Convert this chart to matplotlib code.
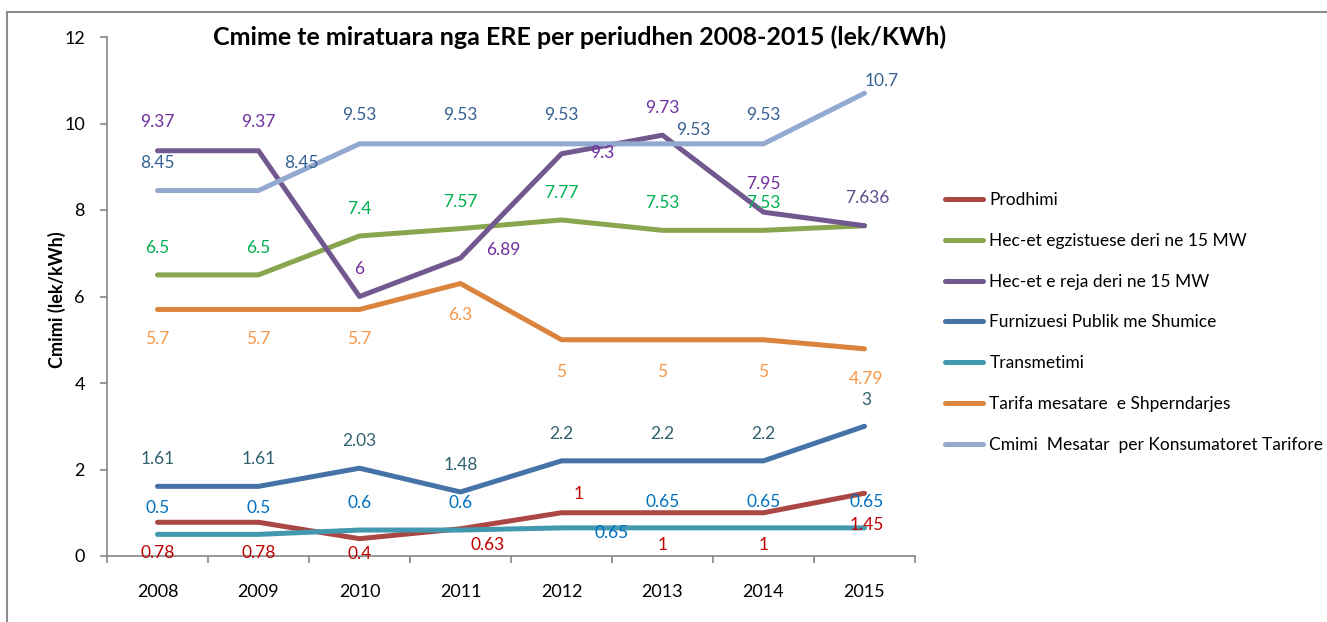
import matplotlib
matplotlib.use("Agg")
import matplotlib.pyplot as plt
from matplotlib.lines import Line2D

# ---------------- data ----------------
years = ["2008", "2009", "2010", "2011", "2012", "2013", "2014", "2015"]
series_names = [
    "Prodhimi",
    "Hec-et egzistuese deri ne 15 MW",
    "Hec-et e reja deri ne 15 MW",
    "Furnizuesi Publik me Shumice",
    "Transmetimi",
    "Tarifa mesatare  e Shperndarjes",
    "Cmimi  Mesatar  per Konsumatoret Tarifore",
]
prodhimi = [0.78, 0.78, 0.4, 0.63, 1, 1, 1, 1.45]
hec_egzistuese = [6.5, 6.5, 7.4, 7.57, 7.77, 7.53, 7.53, 7.636]
hec_reja = [9.37, 9.37, 6, 6.89, 9.3, 9.73, 7.95, 7.636]
furnizuesi = [1.61, 1.61, 2.03, 1.48, 2.2, 2.2, 2.2, 3]
transmetimi = [0.5, 0.5, 0.6, 0.6, 0.65, 0.65, 0.65, 0.65]
tarifa = [5.7, 5.7, 5.7, 6.3, 5, 5, 5, 4.79]
cmimi_mesatar = [8.45, 8.45, 9.53, 9.53, 9.53, 9.53, 9.53, 10.7]
y_ticks = [0, 2, 4, 6, 8, 10, 12]

# ---------------- styles ----------------
all_series = [prodhimi, hec_egzistuese, hec_reja, furnizuesi, transmetimi, tarifa, cmimi_mesatar]
line_colors = ["#AA4643", "#89A54E", "#71588F", "#4572A7", "#4198AF", "#DB843D", "#93A9CF"]
label_colors = ["#C00000", "#00B050", "#7030A0", "#31606F", "#0070C0", "#F79646", "#366092"]
# label offsets in pixels (dx, dy) relative to each point; None = no label
label_offsets = [
    [(0, -31), (0, -31), (0, -15), (27, -16), (17, 19), (0, -32), (0, -32), (2, -32)],
    [(0, 27)] * 7 + [None],
    [(0, 29), (0, 29), (0, 28), (43, 8), (41, 1), (0, 27), (0, 28), (3, 28)],
    [(0, 27)] * 7 + [(2, 26)],
    [(0, 26), (0, 26), (0, 27), (0, 27), (50, -5), (0, 26), (0, 26), (2, 26)],
    [(0, -30), (0, -30), (0, -30), (0, -31), (0, -32), (0, -32), (0, -32), (2, -30)],
    [(0, 28), (43, 28), (0, 29), (0, 29), (0, 29), (31, 14), (0, 29), (17, 12)],
]

FONT = ["Lato", "DejaVu Sans"]
plt.rcParams["font.family"] = FONT

W, H = 1327, 622
fig = plt.figure(figsize=(W / 100, H / 100), dpi=100)
fig.patch.set_facecolor("white")

ax = fig.add_axes([107 / W, (H - 556) / H, (915 - 107) / W, (556 - 37) / H])
x = list(range(len(years)))

for i, (vals, name) in enumerate(zip(all_series, series_names)):
    ax.plot(x, vals, color=line_colors[i], lw=3.6, label=name,
            solid_capstyle="round", solid_joinstyle="round", zorder=3 + i * 0.1)

for i, vals in enumerate(all_series):
    for j, v in enumerate(vals):
        off = label_offsets[i][j]
        if off is None:
            continue
        col = label_colors[i]
        if i == 2 and j == len(vals) - 1:
            col = "#5F4B8B"
        ax.annotate(f"{v:g}", (j, v), xytext=off, textcoords="offset pixels",
                    ha="center", va="center", color=col, fontsize=12.5,
                    zorder=10, annotation_clip=False)

ax.set_xlim(-0.5, len(years) - 0.5)
ax.set_ylim(0, 12)
ax.set_yticks(y_ticks)
ax.set_yticklabels([str(t) for t in y_ticks])
ax.set_xticks(x)
ax.set_xticklabels(years)
ax.set_xticks([k - 0.5 for k in range(len(years) + 1)], minor=True)
ax.tick_params(axis="x", which="major", length=0, pad=20, labelsize=13, colors="black")
ax.tick_params(axis="x", which="minor", length=5, width=1.2, color="#868686", direction="out")
ax.tick_params(axis="y", which="major", length=5, width=1.2, color="#868686", pad=11,
               labelsize=13, labelcolor="black", direction="out")
for s in ["top", "right"]:
    ax.spines[s].set_visible(False)
for s in ["left", "bottom"]:
    ax.spines[s].set_color("#868686")
    ax.spines[s].set_linewidth(1.2)
ax.set_facecolor("none")

fig.text(57 / W, (H - 300) / H, "Cmimi (lek/kWh)", rotation=90, ha="center", va="center",
         fontsize=13, fontweight="bold", color="black")

fig.text(580 / W, (H - 37) / H, "Cmime te miratuara nga ERE per periudhen 2008-2015 (lek/KWh)",
         ha="center", va="center", fontsize=18, fontweight="bold", color="black",
         family=["Lato", "DejaVu Sans"])

handles, labels = ax.get_legend_handles_labels()
fig.legend(handles, labels, loc="upper left", bbox_to_anchor=(945 / W, (H - 192) / H),
           frameon=False, fontsize=12.5, handlelength=2.2, handletextpad=0.35,
           labelspacing=1.43, borderpad=0, borderaxespad=0)

# outer chart border (top and left visible)
fig.add_artist(Line2D([7 / W, 1.0], [(H - 12) / H, (H - 12) / H], transform=fig.transFigure,
                      color="#8C8C8C", lw=1.5))
fig.add_artist(Line2D([7 / W, 7 / W], [0, (H - 12) / H], transform=fig.transFigure,
                      color="#8C8C8C", lw=1.5))

fig.savefig("out.png", dpi=100)
